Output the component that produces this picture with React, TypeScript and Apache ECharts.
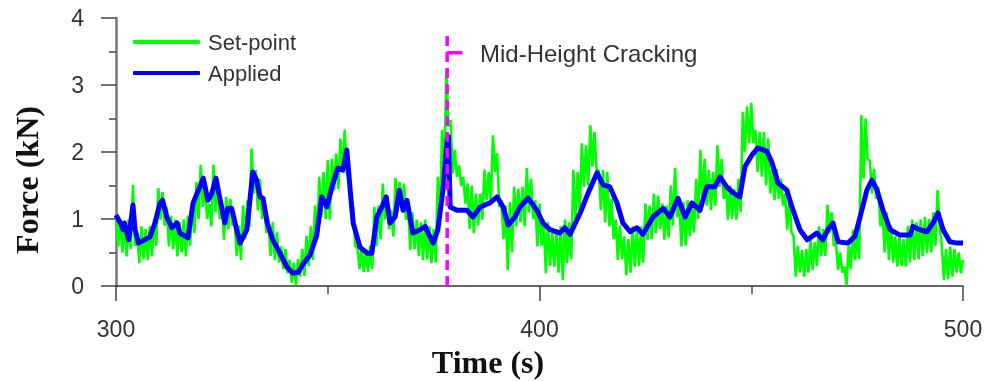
import React, { useEffect, useRef } from "react";
import * as echarts from "echarts";

// Set-point force (kN): per-second upper and lower readings of the noisy signal, 300 s .. 500 s
const setPointStart = 300;
const setPointHigh = [
  1.03, 0.99, 0.95, 1.0, 1.51, 0.79, 0.89, 0.85, 0.89, 1.0,
  1.46, 1.4, 1.18, 1.05, 0.99, 0.95, 0.99, 1.05, 1.23, 1.55,
  1.81, 1.5, 1.23, 1.81, 1.6, 1.28, 1.33, 1.3, 0.99, 0.9,
  1.2, 1.28, 2.05, 1.73, 1.6, 1.33, 0.99, 0.95, 0.8, 0.59,
  0.55, 0.39, 0.35, 0.4, 0.55, 0.75, 0.89, 1.2, 1.63, 1.7,
  1.88, 1.9, 1.98, 2.2, 2.33, 1.58, 1.18, 0.59, 0.59, 0.55,
  0.6, 1.18, 1.2, 1.53, 1.3, 1.13, 1.61, 1.55, 1.53, 1.13,
  1.1, 0.99, 0.95, 0.99, 0.89, 0.85, 1.63, 2.33, 3.22, 2.48,
  2.03, 1.8, 1.63, 1.53, 1.5, 1.38, 1.38, 1.73, 1.7, 2.25,
  1.98, 1.28, 1.2, 1.25, 1.48, 1.45, 1.48, 1.76, 1.6, 1.28,
  1.23, 0.99, 0.95, 0.79, 0.85, 0.89, 0.99, 0.95, 1.73, 1.7,
  2.13, 2.1, 2.4, 2.3, 1.73, 1.73, 1.7, 1.3, 0.99, 0.9,
  0.74, 0.7, 0.89, 0.85, 0.89, 1.23, 1.2, 1.38, 1.35, 1.23,
  1.2, 1.5, 1.76, 1.28, 1.25, 1.28, 1.25, 1.6, 2.03, 1.9,
  1.73, 1.7, 2.1, 1.9, 1.53, 1.5, 1.45, 1.6, 2.6, 2.68,
  2.73, 2.33, 2.3, 2.3, 2.2, 1.78, 1.75, 1.6, 1.38, 1.3,
  0.74, 0.6, 0.54, 0.55, 0.69, 0.65, 0.89, 0.85, 1.21, 1.1,
  0.64, 0.5, 0.29, 0.6, 0.84, 0.8, 2.55, 2.5, 1.88, 1.75,
  1.48, 1.13, 1.1, 0.9, 0.74, 0.74, 0.7, 0.9, 0.99, 0.95,
  0.99, 1.03, 1.0, 1.1, 1.43, 0.59, 0.55, 0.59, 0.55, 0.5,
  0.39,
];
const setPointLow = [
  0.59, 0.5, 0.44, 0.55, 0.6, 0.34, 0.4, 0.39, 0.45, 0.6,
  0.99, 0.9, 0.59, 0.55, 0.44, 0.5, 0.44, 0.6, 0.79, 1.0,
  1.18, 1.0, 0.89, 1.1, 1.0, 0.69, 0.85, 0.9, 0.45, 0.39,
  0.7, 0.89, 1.38, 1.13, 1.0, 0.79, 0.45, 0.39, 0.35, 0.25,
  0.19, 0.05, 0.01, 0.14, 0.15, 0.3, 0.39, 0.7, 1.03, 1.0,
  0.99, 1.43, 1.45, 1.7, 1.68, 1.13, 0.59, 0.25, 0.21, 0.21,
  0.25, 0.59, 0.7, 0.99, 0.85, 0.74, 1.1, 1.13, 0.99, 0.54,
  0.55, 0.45, 0.39, 0.4, 0.34, 0.35, 0.99, 1.6, 2.38, 1.68,
  1.63, 1.5, 1.23, 0.85, 0.79, 0.9, 0.99, 1.28, 1.25, 1.7,
  1.18, 0.7, 0.24, 0.5, 0.89, 0.95, 0.89, 1.1, 1.0, 0.59,
  0.6, 0.19, 0.3, 0.29, 0.2, 0.09, 0.34, 0.4, 1.0, 1.13,
  1.48, 1.5, 1.78, 1.7, 1.13, 0.95, 0.89, 0.7, 0.39, 0.4,
  0.16, 0.2, 0.29, 0.3, 0.35, 0.69, 0.7, 0.79, 0.85, 0.69,
  0.72, 0.9, 1.03, 0.59, 0.6, 0.74, 0.8, 1.0, 1.28, 1.2,
  1.13, 1.2, 1.48, 1.3, 0.99, 1.0, 0.99, 1.1, 2.0, 2.13,
  2.13, 1.7, 1.63, 1.5, 1.38, 1.28, 1.3, 1.2, 0.84, 0.8,
  0.14, 0.2, 0.14, 0.2, 0.24, 0.3, 0.44, 0.45, 0.79, 0.6,
  0.24, 0.2, 0.01, 0.25, 0.39, 0.4, 1.6, 1.88, 1.38, 1.3,
  0.89, 0.5, 0.39, 0.35, 0.29, 0.3, 0.29, 0.35, 0.39, 0.4,
  0.45, 0.49, 0.5, 0.6, 0.89, 0.09, 0.1, 0.14, 0.2, 0.19,
  0.25,
];

// Applied force (kN): time (s) and value
const appliedTime = [
  300, 301, 301.7, 302, 303, 304, 304.5, 305.3, 306.8, 308,
  309.2, 310.4, 311, 312, 313.2, 314.4, 315.1, 317, 318.2, 319.8,
  320.6, 321.7, 322.6, 323.6, 324.6, 325.7, 326.4, 327.3, 328.5, 329.3,
  330.9, 332.3, 333.2, 334, 334.7, 335.7, 337, 338.7, 340.4, 341.8,
  343, 344.2, 345.8, 347.4, 348.6, 349.8, 351, 352.4, 353.6, 354.5,
  355.3, 356, 357.6, 359.3, 360.4, 361.6, 362.8, 363.8, 364.7, 365.9,
  366.9, 367.8, 368.7, 370.1, 371.8, 373, 373.7, 374.9, 376, 377.2,
  378.2, 378.5, 378.9, 380.5, 382.9, 384.3, 386, 388.3, 390, 391.4,
  392.6, 394.2, 395.4, 397.3, 399.4, 400.8, 402.5, 404.8, 406, 407.2,
  409.6, 411.5, 413.6, 415, 416.6, 418.3, 419.7, 421.4, 423, 424.4,
  426.8, 429.2, 430.8, 432.7, 434.4, 436, 437.9, 439.5, 441.4, 442.6,
  444.2, 445.7, 447.3, 448.5, 450.2, 451.6, 453.7, 454.9, 456.3, 458.4,
  459.6, 461.5, 463.2, 465.5, 466.9, 468.1, 469.3, 470.5, 472.8, 474.5,
  475.7, 477.3, 478.5, 479.7, 481.1, 482.8, 485.1, 487.5, 488.2, 489.8,
  491.5, 492.9, 494.1, 495.3, 496.9, 498.6, 500,
];
const appliedValues = [
  1.06, 0.94, 0.84, 0.94, 0.69, 1.21, 0.84, 0.64, 0.69, 0.73,
  0.94, 1.24, 1.28, 1.03, 0.87, 0.94, 0.79, 0.72, 1.24, 1.48,
  1.61, 1.28, 1.38, 1.61, 1.28, 0.94, 1.16, 1.16, 0.84, 0.64,
  0.84, 1.7, 1.58, 1.33, 1.31, 0.94, 0.69, 0.49, 0.28, 0.19,
  0.2, 0.33, 0.46, 0.76, 1.33, 1.18, 1.48, 1.76, 1.73, 2.03,
  1.43, 0.94, 0.58, 0.49, 0.49, 1.03, 1.18, 1.33, 0.94, 1.03,
  1.43, 1.13, 1.28, 0.79, 0.84, 0.89, 0.79, 0.64, 0.84, 1.43,
  2.18, 2.23, 1.18, 1.13, 1.13, 1.03, 1.18, 1.24, 1.33, 1.18,
  0.91, 1.03, 1.18, 1.31, 1.13, 0.94, 0.84, 0.79, 0.87, 0.77,
  1.09, 1.39, 1.69, 1.51, 1.48, 1.24, 0.94, 0.81, 0.87, 0.77,
  1.03, 1.16, 1.03, 1.31, 1.03, 1.24, 1.13, 1.48, 1.48, 1.63,
  1.48, 1.39, 1.33, 1.78, 1.96, 2.06, 2.01, 1.84, 1.54, 1.43,
  1.18, 0.84, 0.69, 0.79, 0.69, 0.84, 0.94, 0.66, 0.64, 0.74,
  1.03, 1.43, 1.58, 1.43, 1.13, 0.84, 0.76, 0.76, 0.89, 0.84,
  0.81, 0.94, 1.09, 0.84, 0.66, 0.64, 0.64,
];

// Annotation: mid-height cracking event
const crackTime = 378.2;
const crackLineTop = 3.78;
const crackTickLevel = 3.48;
const crackTickEnd = 381.8;
const crackLabel = "Mid-Height Cracking";

const xTicks = { min: 300, max: 500, interval: 100 };
const yTicks = { min: 0, max: 4, interval: 1 };

export default function App() {
  const ref = useRef<HTMLDivElement>(null);

  useEffect(() => {
    if (!ref.current) return;
    const chart = echarts.init(ref.current, null, { renderer: "svg" });

    const setPointData: number[][] = [];
    setPointHigh.forEach((h, i) => {
      const t = setPointStart + i;
      setPointData.push([t, h]);
      if (t + 0.5 <= xTicks.max) setPointData.push([t + 0.5, setPointLow[i]]);
    });
    const appliedData = appliedTime.map((t, i) => [t, appliedValues[i]]);

    const sans = "'Liberation Sans', Arial, sans-serif";
    const serif = "'Liberation Serif', 'Times New Roman', serif";

    chart.setOption({
      animation: false,
      grid: { left: 116, right: 24, top: 18, bottom: 95, containLabel: false },
      legend: {
        orient: "vertical",
        left: 128,
        top: 26,
        itemWidth: 67,
        itemHeight: 4,
        itemGap: 9,
        icon: "roundRect",
        data: ["Set-point", "Applied"],
        textStyle: {
          fontFamily: sans,
          fontSize: 22,
          color: "#333",
          lineHeight: 22,
          padding: [0, 0, 0, 3],
        },
        selectedMode: false,
      },
      xAxis: {
        type: "value",
        min: xTicks.min,
        max: xTicks.max,
        interval: xTicks.interval,
        splitLine: { show: false },
        axisLine: { onZero: false, lineStyle: { color: "#333", width: 1.5 } },
        axisTick: { length: 15, lineStyle: { color: "#444", width: 1.5 } },
        minorTick: { show: true, splitNumber: 2, length: 8, lineStyle: { color: "#444", width: 1.5 } },
        axisLabel: { margin: 31, fontFamily: sans, fontSize: 23, color: "#333" },
      },
      yAxis: {
        type: "value",
        min: yTicks.min,
        max: yTicks.max,
        interval: yTicks.interval,
        splitLine: { show: false },
        axisLine: { show: true, lineStyle: { color: "#777", width: 2.5 } },
        axisTick: { show: true, length: 15, lineStyle: { color: "#444", width: 1.5 } },
        minorTick: { show: true, splitNumber: 2, length: 7, lineStyle: { color: "#444", width: 1.5 } },
        axisLabel: { margin: 32, fontFamily: sans, fontSize: 23, color: "#333" },
      },
      series: [
        {
          name: "Set-point",
          type: "line",
          data: setPointData,
          symbol: "none",
          lineStyle: { color: "#00ff00", width: 2.6 },
          itemStyle: { color: "#00ff00" },
          silent: true,
        },
        {
          name: "Applied",
          type: "line",
          data: appliedData,
          symbol: "none",
          lineStyle: { color: "#0000ff", width: 5, join: "round" },
          itemStyle: { color: "#0000ff" },
          silent: true,
        },
        {
          name: "crack",
          type: "line",
          data: [
            [crackTime, 0],
            [crackTime, crackLineTop],
          ],
          symbol: "none",
          lineStyle: { color: "#ff00ff", width: 3.5, type: [10, 6] },
          silent: true,
        },
        {
          name: "crackTick",
          type: "line",
          data: [
            [crackTime, crackTickLevel],
            [crackTickEnd, crackTickLevel],
          ],
          symbol: "none",
          lineStyle: { color: "#ff00ff", width: 3.5 },
          silent: true,
        },
      ],
      graphic: [
        {
          type: "text",
          x: 480,
          y: 53,
          style: {
            text: crackLabel,
            fontFamily: sans,
            fontSize: 24,
            fill: "#333",
            textAlign: "left",
            textVerticalAlign: "middle",
          },
        },
        {
          type: "text",
          x: 488,
          y: 362,
          style: {
            text: "Time (s)",
            fontFamily: serif,
            fontWeight: "bold",
            fontSize: 32,
            fill: "#111",
            textAlign: "center",
            textVerticalAlign: "middle",
          },
        },
        {
          type: "text",
          x: 27,
          y: 180,
          rotation: Math.PI / 2,
          style: {
            text: "Force (kN)",
            fontFamily: serif,
            fontWeight: "bold",
            fontSize: 32,
            fill: "#111",
            textAlign: "center",
            textVerticalAlign: "middle",
          },
        },
      ],
    });

    return () => chart.dispose();
  }, []);

  return (
    <div
      ref={ref}
      style={{ position: "fixed", left: 0, top: 0, width: 987, height: 381 }}
    />
  );
}
